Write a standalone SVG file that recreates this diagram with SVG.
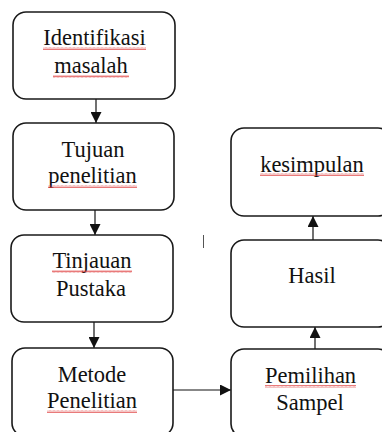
<svg xmlns="http://www.w3.org/2000/svg" width="382" height="432" viewBox="0 0 382 432">
<style>
.box{fill:#fff;stroke:#1a1a1a;stroke-width:1.6}
.c{stroke:#111;stroke-width:1.2;fill:none}
.sq{fill:url(#wave)}
</style>
<defs>
<marker id="ah" viewBox="0 0 11 11" refX="11" refY="5.5" markerWidth="11" markerHeight="11" markerUnits="userSpaceOnUse" orient="auto">
<path d="M0,0 L11,5.5 L0,11 Z" fill="#111"/>
</marker>
<pattern id="wave" width="4" height="3" patternUnits="userSpaceOnUse">
<path d="M0,2.5 L1,0.5 L2,2.5 L3,0.5 L4,2.5" fill="none" stroke="#e04040" stroke-width="0.7"/>
</pattern>
</defs>
<rect width="382" height="432" fill="#fff"/>
<g id="connectors">
<line class="c" x1="96" y1="99" x2="96" y2="123" marker-end="url(#ah)"/>
<line class="c" x1="95" y1="210" x2="95" y2="235" marker-end="url(#ah)"/>
<line class="c" x1="94" y1="322" x2="94" y2="348" marker-end="url(#ah)"/>
<line class="c" x1="173" y1="390" x2="231" y2="390" marker-end="url(#ah)"/>
<line class="c" x1="315" y1="349" x2="315" y2="327" marker-end="url(#ah)"/>
<line class="c" x1="313" y1="240" x2="313" y2="216" marker-end="url(#ah)"/>
</g>
<g font-family="Liberation Serif" font-size="22.5" fill="#111" text-anchor="middle">
<g id="identifikasi">
<rect class="box" x="13" y="12" width="162" height="87" rx="13"/>
<text x="94.5" y="45" font-family="Liberation Serif">Identifikasi</text>
<text x="91" y="73" font-family="Liberation Serif">masalah</text>
<rect class="sq" x="43" y="47" width="103" height="3"/>
<rect class="sq" x="53" y="75" width="76" height="3"/>
</g>
<g id="tujuan">
<rect class="box" x="13" y="123" width="161" height="87" rx="13"/>
<text x="93" y="157" font-family="Liberation Serif">Tujuan</text>
<text x="92.5" y="183" font-family="Liberation Serif">penelitian</text>
<rect class="sq" x="48" y="185" width="89" height="3"/>
</g>
<g id="tinjauan">
<rect class="box" x="11" y="235" width="162" height="87" rx="13"/>
<text x="92" y="268" font-family="Liberation Serif">Tinjauan</text>
<text x="91" y="296" font-family="Liberation Serif">Pustaka</text>
<rect class="sq" x="52" y="270" width="80" height="3"/>
</g>
<g id="metode">
<rect class="box" x="12" y="348" width="161" height="88" rx="13"/>
<text x="92" y="382" font-family="Liberation Serif">Metode</text>
<text x="92" y="408" font-family="Liberation Serif">Penelitian</text>
<rect class="sq" x="47" y="410" width="90" height="3"/>
</g>
<g id="pemilihan">
<rect class="box" x="231" y="349" width="160" height="88" rx="13"/>
<text x="310.5" y="383" font-family="Liberation Serif">Pemilihan</text>
<text x="310" y="410" font-family="Liberation Serif">Sampel</text>
<rect class="sq" x="265" y="385" width="91" height="3"/>
</g>
<g id="hasil">
<rect class="box" x="231" y="240" width="160" height="87" rx="13"/>
<text x="312" y="283" font-family="Liberation Serif">Hasil</text>
</g>
<g id="kesimpulan">
<rect class="box" x="231" y="128" width="160" height="88" rx="13"/>
<text x="312" y="172" font-family="Liberation Serif">kesimpulan</text>
<rect class="sq" x="260" y="173" width="104" height="3"/>
</g>
</g>
<line x1="203.5" y1="235" x2="203.5" y2="248" stroke="#555" stroke-width="1"/>
</svg>
